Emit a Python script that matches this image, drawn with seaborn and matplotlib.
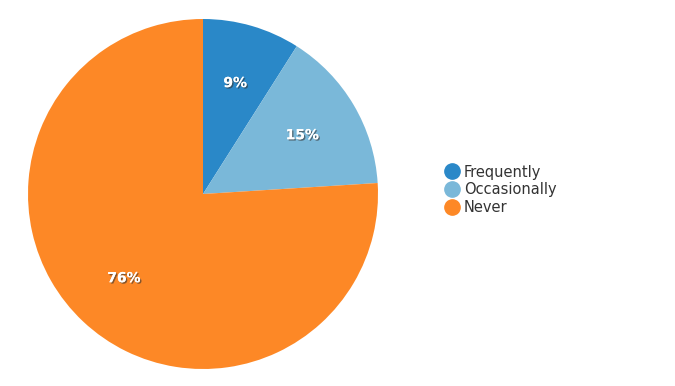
import matplotlib
matplotlib.use("Agg")
import matplotlib.pyplot as plt
import matplotlib.patheffects as pe
from matplotlib.lines import Line2D
import seaborn as sns

categories = ["Frequently", "Occasionally", "Never"]
values = [9, 15, 76]
colors = ["#2a88c8", "#7ab8d9", "#fd8826"]

sns.set_theme(style="white")
plt.rcParams['font.family'] = ['DejaVu Sans']
plt.rcParams['font.sans-serif'] = ['DejaVu Sans']

W, H = 675, 386
fig = plt.figure(figsize=(W / 100, H / 100), dpi=100)
cx, cy, r = 203, 194, 175
ax = fig.add_axes([(cx - r) / W, (H - cy - r) / H, 2 * r / W, 2 * r / H])

wedges, texts, autotexts = ax.pie(
    values, colors=sns.color_palette(colors), startangle=90, counterclock=False,
    autopct=lambda p: f"{p:.0f}%", pctdistance=0.66, radius=1,
    wedgeprops=dict(linewidth=0),
    textprops=dict(color="white", fontsize=10, fontweight="bold"),
)
for t in autotexts:
    t.set_path_effects([pe.withSimplePatchShadow(offset=(1, -1), shadow_rgbFace="#333333", alpha=0.6),
                        pe.Normal()])
ax.set_xlim(-1, 1)
ax.set_ylim(-1, 1)
ax.set_aspect("equal")
ax.axis("off")

handles = [Line2D([0], [0], marker="o", linestyle="none", markersize=11,
                  markerfacecolor=c, markeredgecolor=c) for c in colors]
fig.legend(handles, categories, loc="center left",
           bbox_to_anchor=(432 / W, 1 - 190 / H), frameon=False,
           prop=dict(family="DejaVu Sans", size=10.5), handletextpad=0.3,
           labelspacing=0.2, handlelength=1.0, labelcolor="#333333")

fig.savefig("out.png", dpi=100)
